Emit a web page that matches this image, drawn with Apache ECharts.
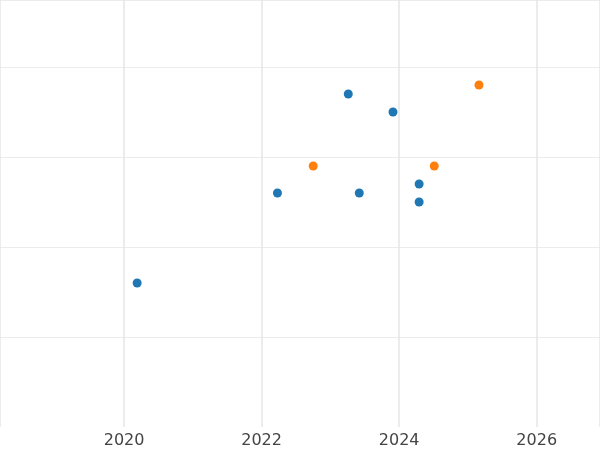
<!DOCTYPE html>
<html>
<head>
<meta charset="utf-8">
<script src="https://cdn.jsdelivr.net/npm/echarts@6/dist/echarts.min.js"></script>
<style>html,body{margin:0;padding:0;background:#fff}#main{width:600px;height:450px}</style>
</head>
<body>
<div id="main"></div>
<script>
// blue points [year, value]
var blueYears = [2020.19, 2022.23, 2023.26, 2023.42, 2023.91, 2024.29, 2024.29];
var blueValues = [1.6, 2.6, 3.7, 2.6, 3.5, 2.7, 2.5];
// orange points
var orangeYears = [2022.75, 2024.51, 2025.16];
var orangeValues = [2.9, 2.9, 3.8];

function pairs(xs, ys) {
    var out = [];
    for (var i = 0; i < xs.length; i++) out.push([xs[i], ys[i]]);
    return out;
}

var myChart = echarts.init(document.getElementById('main'));
myChart.setOption({
    animation: false,
    grid: { left: 0, right: 0, top: 0, bottom: 23 },
    xAxis: {
        type: 'value',
        min: 2018.196,
        max: 2026.92,
        splitNumber: 4,
        axisLine: { show: false },
        axisTick: { show: false },
        axisLabel: {
            color: '#444', fontSize: 16, margin: 6,
            fontFamily: 'DejaVu Sans',
            formatter: function (v) { return String(v); },
            showMinLabel: false, showMaxLabel: false
        },
        splitLine: { show: true, lineStyle: { color: '#e6e6e6', width: 1.5 } }
    },
    yAxis: {
        type: 'value',
        min: 0,
        max: 4.744,
        interval: 1,
        axisLine: { show: false },
        axisTick: { show: false },
        axisLabel: { show: false },
        splitLine: { show: true, showMinLine: false, lineStyle: { color: '#ececec' } }
    },
    series: [
        { type: 'scatter', data: pairs(blueYears, blueValues), symbolSize: 9, itemStyle: { color: '#1f77b4', opacity: 1 } },
        { type: 'scatter', data: pairs(orangeYears, orangeValues), symbolSize: 9, itemStyle: { color: '#ff7f0e', opacity: 1 } }
    ]
});
window.onresize = myChart.resize;
</script>
</body>
</html>
